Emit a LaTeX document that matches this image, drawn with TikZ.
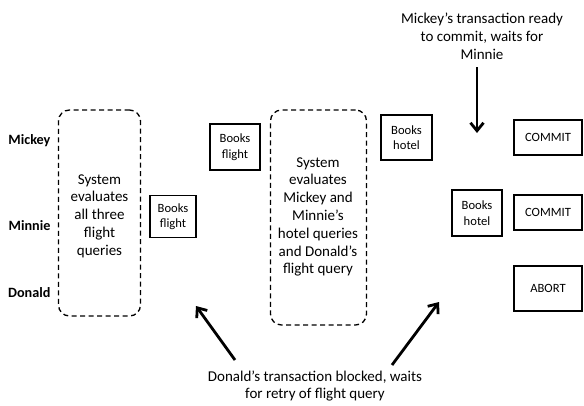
\documentclass[tikz,border=0pt]{standalone}
\usepackage{fontspec}
\setmainfont{Carlito}
\usetikzlibrary{arrows.meta}
\tikzset{
  sysbox/.style={draw, dashed, dash pattern=on 5pt off 3.5pt, line width=1.3pt, rounded corners=11pt, inner sep=0pt},
  smallbox/.style={draw, line width=1.3pt, inner sep=0pt, align=center, font=\fontsize{12.6}{15.5}\selectfont},
  who/.style={anchor=east, font=\bfseries\fontsize{14.2}{16}\selectfont},
  note/.style={align=center, font=\fontsize{15}{17.8}\selectfont},
  bigarrow/.style={line width=2.8pt, -{Straight Barb[length=8pt,width=13pt,line width=2.8pt]}}
}
\begin{document}
\begin{tikzpicture}[x=1pt,y=-1pt]
\useasboundingbox (0,0) rectangle (584,405);
\node[who] (mickey) at (54,141) {Mickey};
\node[who] (minnie) at (54,226) {Minnie};
\node[who] (donald) at (54,293) {Donald};
\node[sysbox, minimum width=82pt, minimum height=206pt] (sys1) at (99.5,213) {};
\node[note] (sys1t) at (99.5,216) {System\\evaluates\\all three\\flight\\queries};
\node[smallbox, minimum width=46pt, minimum height=42pt] (bf1) at (173,216.5) {Books\\flight};
\node[smallbox, minimum width=50pt, minimum height=46pt] (bf2) at (235,147) {Books\\flight};
\node[sysbox, minimum width=96pt, minimum height=215pt] (sys2) at (318.5,217.5) {};
\node[note] (sys2t) at (318,217) {System\\evaluates\\Mickey and\\Minnie’s\\hotel queries\\and Donald’s\\flight query};
\node[smallbox, minimum width=51pt, minimum height=45pt] (bh1) at (406.5,137.5) {Books\\hotel};
\node[smallbox, minimum width=50pt, minimum height=46pt] (bh2) at (477,213) {Books\\hotel};
\node[smallbox, minimum width=68pt, minimum height=35pt] (c1) at (548,137.5) {COMMIT};
\node[smallbox, minimum width=68pt, minimum height=35pt] (c2) at (548,212.5) {COMMIT};
\node[smallbox, minimum width=68pt, minimum height=45pt] (ab) at (548,288.5) {ABORT};
\node[note] (top) at (482,36) {Mickey’s transaction ready\\to commit, waits for\\Minnie};
\coordinate (d1) at (477,67);
\coordinate (d2) at (477,133);
\draw[bigarrow] (d1) -- (d2);
\node[note] (bot) at (315,386) {Donald’s transaction blocked, waits\\for retry of flight query};
\coordinate (l1) at (235,360);
\coordinate (l2) at (196,306);
\coordinate (r1) at (392,365);
\coordinate (r2) at (439,302);
\draw[bigarrow] (l1) -- (l2);
\draw[bigarrow] (r1) -- (r2);
\end{tikzpicture}
\end{document}
